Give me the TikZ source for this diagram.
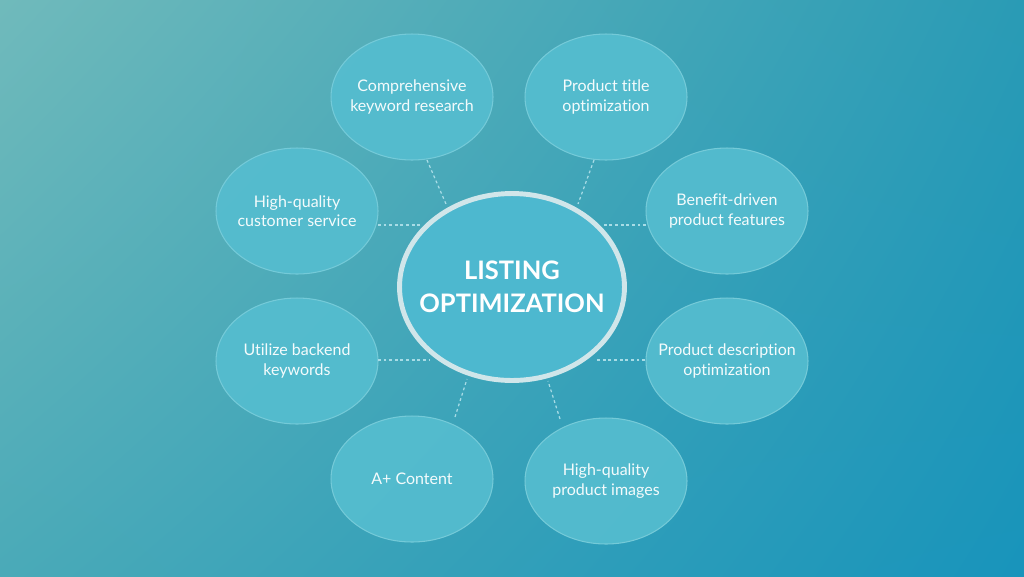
\documentclass[tikz,border=0pt]{standalone}
\usepackage{fontspec}
\setmainfont{Lato}[Ligatures={NoCommon}]
\usetikzlibrary{shapes.geometric,calc,shadings}
\definecolor{bgTL}{HTML}{70BABB}
\definecolor{bgTR}{HTML}{2A9BB5}
\definecolor{bgBL}{HTML}{4AAAB8}
\definecolor{bgBR}{HTML}{1894BB}
\definecolor{satfill}{HTML}{55BDCF}
\definecolor{satedge}{HTML}{74CAD8}
\definecolor{mainfill}{HTML}{4DB8CF}
\definecolor{rim}{HTML}{D0E6EA}
\definecolor{connc}{HTML}{A8DCE6}
\definecolor{txt}{HTML}{F4FBFC}
\tikzset{
  sat/.style={ellipse, draw=satedge, line width=0.6pt, fill=satfill, fill opacity=0.92, text opacity=1,
    minimum width=3.24cm, minimum height=2.52cm, inner sep=0pt},
  sattext/.style={align=center, text=txt, inner sep=0pt, font=\fontsize{9.1}{11}\selectfont},
  mainnode/.style={ellipse, draw=rim, line width=2.8pt, fill=mainfill,
    minimum width=4.5cm, minimum height=3.74cm, inner sep=0pt},
  maintext/.style={align=center, text=white, inner sep=0pt, font=\fontsize{14.5}{18.5}\selectfont\bfseries},
  conn/.style={draw=connc, line width=0.7pt, dash pattern=on 1.6pt off 1.6pt}
}
\begin{document}
\begin{tikzpicture}[x=0.02cm,y=-0.02cm]
\shade[upper left=bgTL, upper right=bgTR, lower left=bgBL, lower right=bgBR] (0,0) rectangle (1024,576);
\useasboundingbox (0,0) rectangle (1024,576);
% satellites
\node[sat, label={[sattext]center:Comprehensive\\keyword research}] (kw) at (412,97) {};
\node[sat, label={[sattext]center:Product title\\optimization}] (pt) at (606,97) {};
\node[sat, label={[sattext]center:High-quality\\customer service}] (cs) at (297,211) {};
\node[sat, label={[sattext]center:Benefit-driven\\product features}] (bf) at (727,211) {};
\node[sat, label={[sattext]center:Utilize backend\\keywords}] (ub) at (297,361) {};
\node[sat, label={[sattext]center:Product description\\optimization}] (pd) at (727,361) {};
\node[sat, label={[sattext]center:A+ Content}] (ac) at (412,479) {};
\node[sat, label={[sattext]center:High-quality\\product images}] (pi) at (606,481) {};
% central
\node[mainnode, label={[maintext]center:LISTING\\OPTIMIZATION}] (m) at (512,287) {};
% connectors
\draw[conn] ([shift={(15,63)}]kw.center) -- ([shift={(-66,-83)}]m.center);
\draw[conn] ([shift={(-12,63)}]pt.center) -- ([shift={(66,-83)}]m.center);
\draw[conn] ([shift={(81,14)}]cs.center) -- ([shift={(-91,-62)}]m.center);
\draw[conn] ([shift={(-81,14)}]bf.center) -- ([shift={(91,-62)}]m.center);
\draw[conn] ([shift={(81,-1)}]ub.center) -- ([shift={(-83,73)}]m.center);
\draw[conn] ([shift={(-82,-1)}]pd.center) -- ([shift={(83,73)}]m.center);
\draw[conn] ([shift={(43,-62)}]ac.center) -- ([shift={(-45,92)}]m.center);
\draw[conn] ([shift={(-46,-62)}]pi.center) -- ([shift={(36,94)}]m.center);
\end{tikzpicture}
\end{document}
